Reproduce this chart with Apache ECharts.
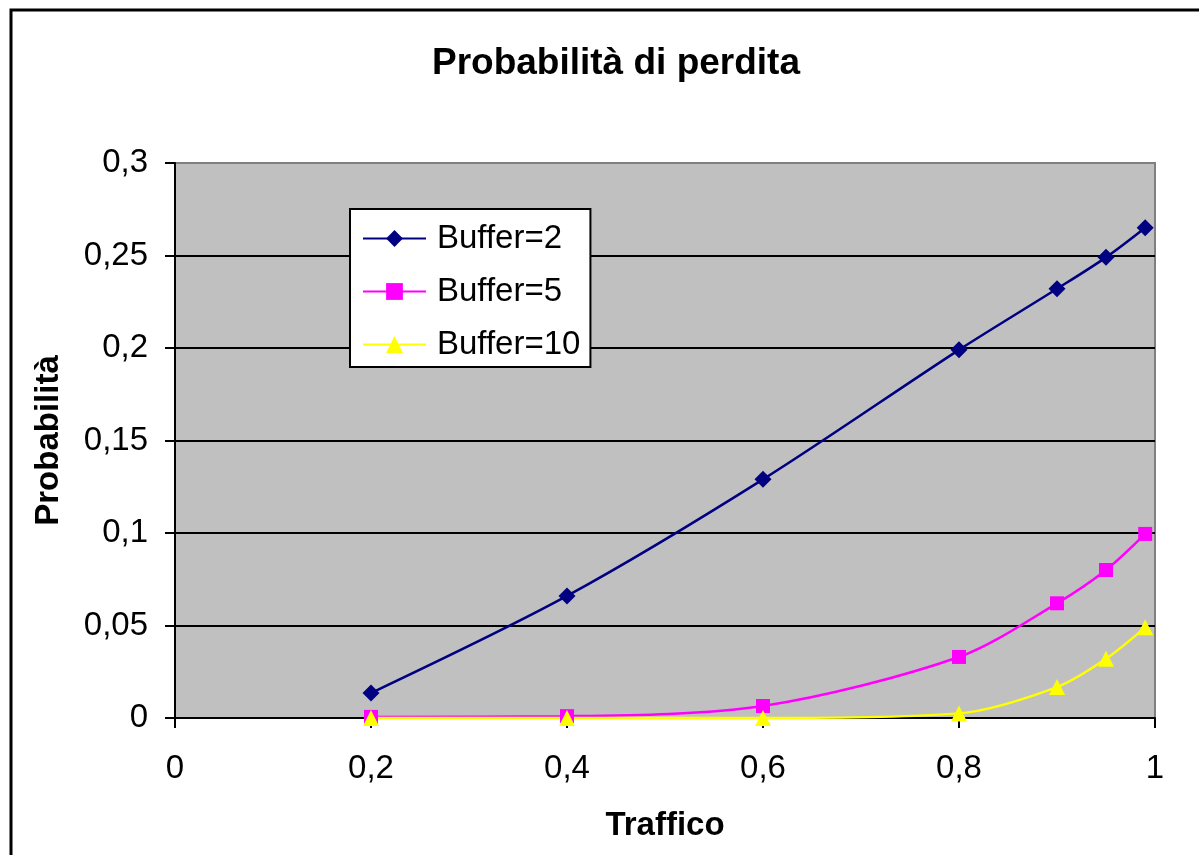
<!DOCTYPE html>
<html>
<head>
<meta charset="utf-8">
<title>Probabilità di perdita</title>
<script src="https://cdn.jsdelivr.net/npm/echarts@6/dist/echarts.min.js"></script>
<style>
  html, body { margin: 0; padding: 0; background: #fff; }
  #chart { width: 1199px; height: 855px; }
</style>
</head>
<body>
<div id="chart"></div>
<script>
// Offered traffic (x) and loss probability per buffer size
const traffic = [0.2, 0.4, 0.6, 0.8, 0.9, 0.95, 0.99];
const buffer2 = [0.0135, 0.066, 0.129, 0.199, 0.232, 0.249, 0.265];
const buffer5 = [0.0006, 0.001, 0.0065, 0.033, 0.062, 0.080, 0.0995];
const buffer10 = [0, 0, 0, 0.0025, 0.0167, 0.032, 0.049];
const seriesNames = ['Buffer=2', 'Buffer=5', 'Buffer=10'];

const FONT = '"Liberation Sans", Arial, sans-serif';
const fmt = v => String(+(+v).toFixed(2)).replace('.', ',');
const pairs = ys => traffic.map((x, i) => [x, ys[i]]);

const chart = echarts.init(document.getElementById('chart'), null, { renderer: 'canvas' });

function lineSeries(name, ys, color, symbol, size) {
  return {
    name: name,
    type: 'line',
    data: pairs(ys),
    smooth: 0.3,
    clip: false,
    symbol: symbol,
    symbolSize: size,
    showAllSymbol: true,
    lineStyle: { color: color, width: 2.5 },
    itemStyle: { color: color, borderWidth: 0 },
    emphasis: { disabled: true }
  };
}

chart.setOption({
  animation: false,
  backgroundColor: '#fff',
  textStyle: { fontFamily: FONT },
  graphic: [{
    type: 'rect',
    shape: { x: 11, y: 10, width: 1300, height: 1000 },
    style: { fill: null, stroke: '#000', lineWidth: 3 },
    silent: true,
    z: 100
  }],
  title: {
    text: 'Probabilità di perdita',
    left: 432,
    top: 45,
    padding: 0,
    textStyle: { fontFamily: FONT, fontSize: 37, fontWeight: 'bold', color: '#000' }
  },
  legend: {
    orient: 'vertical',
    left: 350,
    top: 209,
    padding: [13, 10, 6, 12],
    backgroundColor: '#fff',
    borderColor: '#000',
    borderWidth: 2,
    itemWidth: 63,
    itemHeight: 21,
    itemGap: 20,
    data: seriesNames,
    textStyle: { fontFamily: FONT, fontSize: 33, color: '#000', lineHeight: 33, padding: [0, 0, 0, 6] },
    selectedMode: false
  },
  grid: {
    left: 175,
    right: 44,
    top: 163,
    bottom: 137,
    show: true,
    backgroundColor: '#C0C0C0',
    borderColor: '#808080',
    borderWidth: 2
  },
  xAxis: {
    type: 'value',
    min: 0,
    max: 1,
    interval: 0.2,
    name: 'Traffico',
    nameLocation: 'middle',
    nameGap: 91,
    nameTextStyle: { fontFamily: FONT, fontSize: 33, fontWeight: 'bold', color: '#000' },
    axisLine: { show: true, onZero: false, lineStyle: { color: '#000', width: 2 } },
    axisTick: { show: true, inside: false, length: 10, lineStyle: { color: '#000', width: 2 } },
    axisLabel: { margin: 34, fontFamily: FONT, fontSize: 33, color: '#000', formatter: fmt },
    splitLine: { show: false }
  },
  yAxis: {
    type: 'value',
    min: 0,
    max: 0.3,
    interval: 0.05,
    name: 'Probabilità',
    nameLocation: 'middle',
    nameGap: 110,
    nameRotate: 90,
    nameTextStyle: { fontFamily: FONT, fontSize: 33, fontWeight: 'bold', color: '#000' },
    axisLine: { show: true, lineStyle: { color: '#000', width: 2 } },
    axisTick: { show: true, inside: false, length: 10, lineStyle: { color: '#000', width: 2 } },
    axisLabel: { margin: 27, fontFamily: FONT, fontSize: 33, color: '#000', formatter: fmt },
    splitLine: { show: true, showMaxLine: false, lineStyle: { color: '#000', width: 2 } }
  },
  series: [
    lineSeries(seriesNames[0], buffer2, '#000080', 'diamond', 17),
    lineSeries(seriesNames[1], buffer5, '#FF00FF', 'rect', 14),
    lineSeries(seriesNames[2], buffer10, '#FFFF00', 'triangle', 16)
  ]
});
</script>
</body>
</html>
